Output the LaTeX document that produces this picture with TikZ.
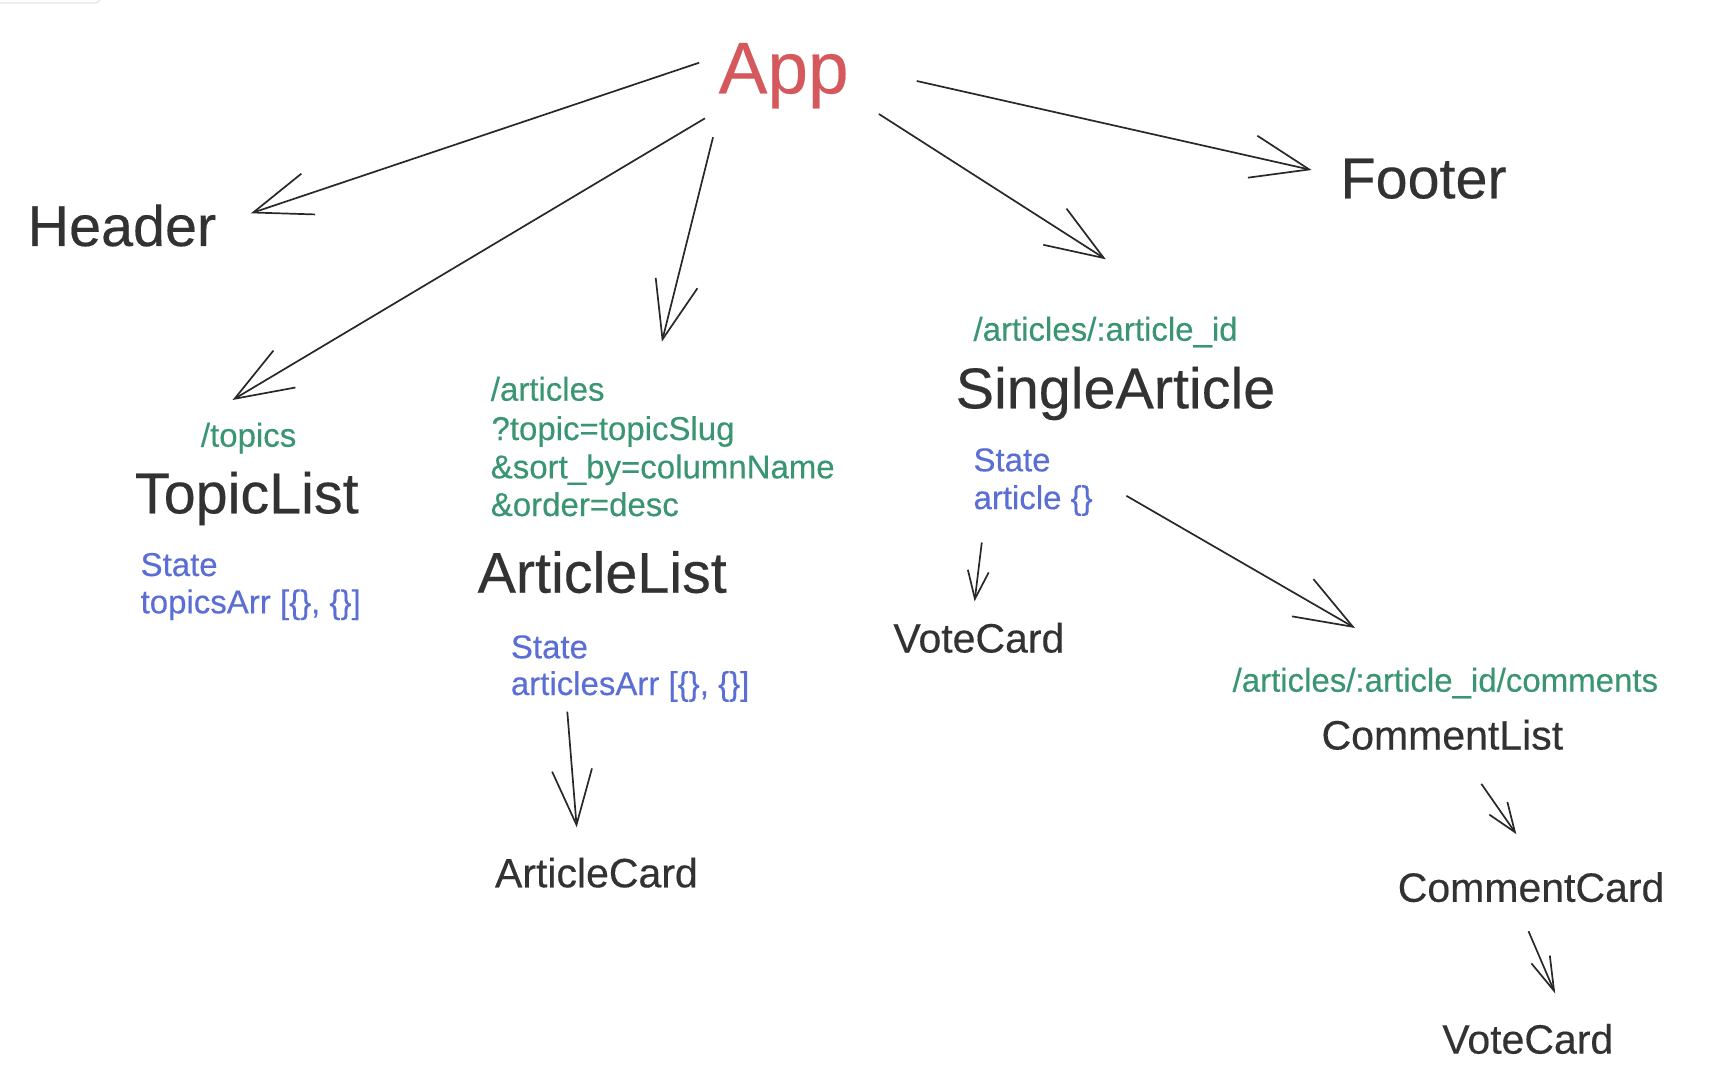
\documentclass[tikz,border=0pt]{standalone}
\usepackage{fontspec}
\setmainfont{Liberation Sans}[FakeBold=0.3]
\usetikzlibrary{arrows.meta}
\definecolor{ink}{RGB}{50,50,50}
\definecolor{appred}{RGB}{212,88,92}
\definecolor{routegreen}{RGB}{58,150,114}
\definecolor{stateblue}{RGB}{90,110,212}
\definecolor{linegray}{RGB}{40,40,40}
\begin{document}
\begin{tikzpicture}[x=1pt,y=-1pt,
  lbl/.style={anchor=base west, inner sep=0pt, outer sep=0pt},
  title/.style={lbl, text=ink, font=\fontsize{57.5}{60}\selectfont},
  comp/.style={lbl, text=ink, font=\fontsize{41}{44}\selectfont},
  route/.style={lbl, text=routegreen, font=\fontsize{33}{36}\selectfont},
  statetxt/.style={lbl, text=stateblue, font=\fontsize{33}{36}\selectfont},
  link/.style={draw=linegray, line width=1.7pt},
  bigtip/.style={link, -{Straight Barb[length=58pt,width=43pt,line width=1.7pt]}},
]
\useasboundingbox (0,0) rectangle (1722,1078);
\fill[white] (0,0) rectangle (1722,1078);
% faint corner of a window at the top left
\draw[black!10, line width=1.2pt, rounded corners=8pt] (-20,-20) rectangle (102,3);

% ---- text nodes ----
\node[lbl, text=appred, font=\fontsize{73}{76}\selectfont] (app) at (718.7,93.3) {App};
\node[title] (header) at (27.6,246) {Header};
\node[title] (footer) at (1340.5,198.3) {Footer};
\node[title] (single) at (955.7,408.3) {SingleArticle};
\node[title] (topiclist) at (134.9,513.3) {TopicList};
\node[title] (articlelist) at (477.6,592.7) {ArticleList};

\node[route] (rsingle) at (973.5,340.7) {/articles/:article\_id};
\node[route] (rtopics) at (200.9,446.7) {/topics};
\node[route] (rart1) at (490.8,400.7) {/articles};
\node[route] (rart2) at (491.5,440) {?topic=topicSlug};
\node[route] (rart3) at (490.8,478.3) {\&sort\_by=columnName};
\node[route] (rart4) at (490.8,516) {\&order=desc};
\node[route] (rcomments) at (1232.6,691.7) {/articles/:article\_id/comments};

\node[statetxt] (st1a) at (140.6,576) {State};
\node[statetxt] (st1b) at (140.6,613.3) {topicsArr [\{\}, \{\}]};
\node[statetxt] (st2a) at (510.9,658.3) {State};
\node[statetxt] (st2b) at (510.9,695) {articlesArr [\{\}, \{\}]};
\node[statetxt] (st3a) at (973.5,471.3) {State};
\node[statetxt] (st3b) at (973.5,509.1) {article \{\}};

\node[comp] (articlecard) at (495,887.3) {ArticleCard};
\node[comp] (votecard1) at (893.4,652.5) {VoteCard};
\node[comp] (commentlist) at (1321.6,749.5) {CommentList};
\node[comp] (commentcard) at (1397.8,901.8) {CommentCard};
\node[comp] (votecard2) at (1442.3,1053.6) {VoteCard};

% ---- connector ends ----
\coordinate (aH) at (699.2,62.7);   \coordinate (eH) at (250.9,213.3);
\coordinate (aT) at (705,118.3);    \coordinate (eT) at (232.5,400);
\coordinate (aA) at (713,137.3);    \coordinate (eA) at (661.9,341.7);
\coordinate (aS) at (878.9,114);    \coordinate (eS) at (1105.8,259.3);
\coordinate (aF) at (916.7,81);     \coordinate (eF) at (1311.6,170);
\coordinate (sAC) at (567.3,711.7); \coordinate (eAC) at (576.7,827.3);
\coordinate (sV1) at (981.8,542.5); \coordinate (eV1) at (974.6,601.3);
\coordinate (sCL) at (1126.4,495.8);\coordinate (eCL) at (1355,628);
\coordinate (sCC) at (1481.3,783.8);\coordinate (eCC) at (1516.3,834.1);
\coordinate (sV2) at (1528.5,931.2);\coordinate (eV2) at (1555.2,993.5);

% ---- connectors ----
\draw[bigtip] (aH) -- (eH);
\draw[bigtip] (aT) -- (eT);
\draw[bigtip] (aA) -- (eA);
\draw[bigtip] (aS) -- (eS);
\draw[bigtip] (aF) -- (eF);
\draw[bigtip] (sCL) -- (eCL);
\draw[link, -{Straight Barb[length=55pt,width=40pt,line width=1.7pt]}] (sAC) -- (eAC);
\draw[link, -{Straight Barb[length=28pt,width=21pt,line width=1.7pt]}] (sV1) -- (eV1);
\draw[link, -{Straight Barb[length=29pt,width=22pt,line width=1.7pt]}] (sCC) -- (eCC);
\draw[link, -{Straight Barb[length=34pt,width=20pt,line width=1.7pt]}] (sV2) -- (eV2);
\end{tikzpicture}
\end{document}
